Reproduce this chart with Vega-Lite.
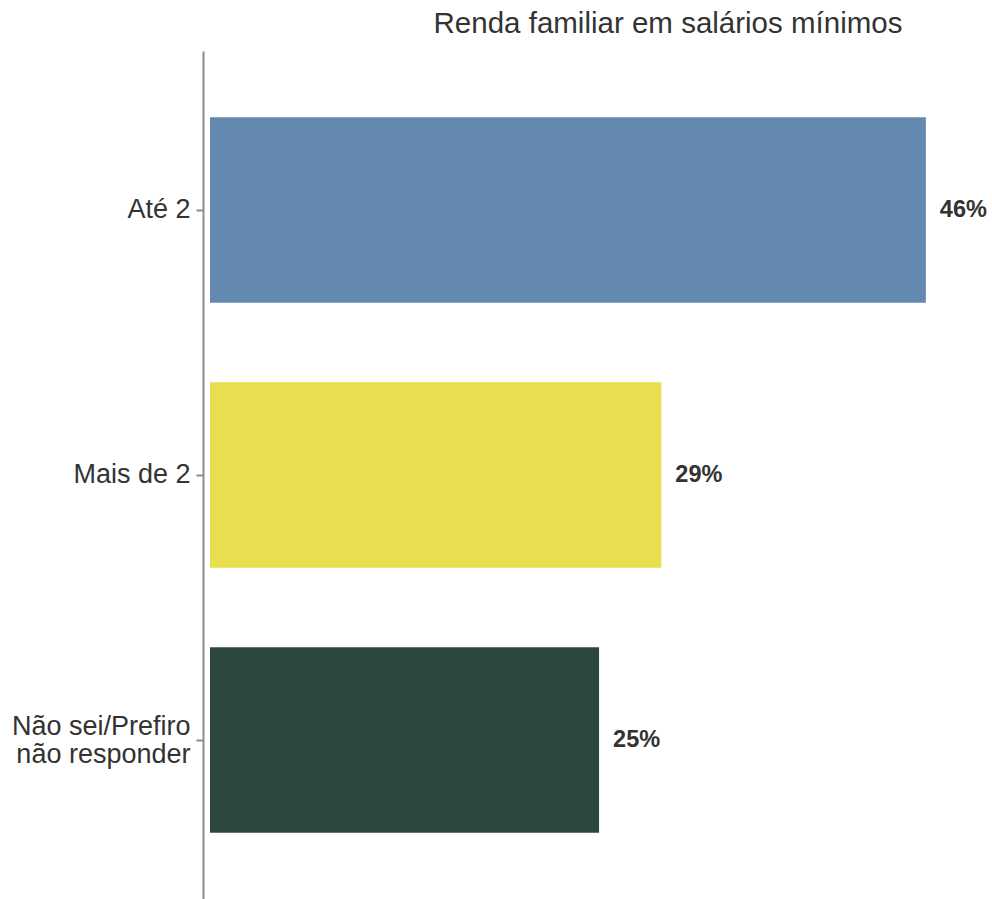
{
  "$schema": "https://vega.github.io/schema/vega-lite/v6.json",
  "autosize": {"type": "none"},
  "padding": {"left": 203, "top": 51, "right": 7, "bottom": 0},
  "width": 782,
  "height": 848,
  "background": "white",
  "config": {"view": {"stroke": null}, "font": "Liberation Sans"},
  "title": {
    "text": "Renda familiar em salários mínimos",
    "fontSize": 29.5,
    "fontWeight": "normal",
    "color": "#333333",
    "font": "Liberation Sans",
    "anchor": "middle",
    "dx": 74,
    "offset": 12
  },
  "data": {
    "values": [
      {"categoria": "Até 2", "pct": 46, "rotulo": "46%"},
      {"categoria": "Mais de 2", "pct": 29, "rotulo": "29%"},
      {"categoria": "Não sei/Prefiro|não responder", "pct": 25, "rotulo": "25%"}
    ]
  },
  "encoding": {
    "y": {
      "field": "categoria",
      "type": "nominal",
      "sort": null,
      "scale": {"paddingInner": 0.3, "paddingOuter": 0.25},
      "axis": {
        "title": null,
        "labelExpr": "split(datum.label, '|')",
        "labelFontSize": 27,
        "labelColor": "#333333",
        "labelFont": "Liberation Sans",
        "labelPadding": 6,
        "labelLineHeight": 28,
        "labelLimit": 400,
        "labelOffset": {"condition": {"test": "indexof(datum.value, '|') >= 0", "value": -13}, "value": 0},
        "tickColor": "#8c8c8c",
        "tickSize": 7,
        "tickWidth": 2,
        "domainColor": "#8c8c8c",
        "domainWidth": 2,
        "grid": false
      }
    },
    "x": {
      "field": "pct",
      "type": "quantitative",
      "scale": {"domain": [-0.45, 49.8], "nice": false, "zero": false},
      "axis": null
    }
  },
  "layer": [
    {
      "mark": {"type": "bar"},
      "encoding": {
        "x": {"datum": 0},
        "x2": {"field": "pct"},
        "color": {
          "field": "categoria",
          "type": "nominal",
          "scale": {
            "domain": ["Até 2", "Mais de 2", "Não sei/Prefiro|não responder"],
            "range": ["#6489b0", "#e8de50", "#2c483e"]
          },
          "legend": null
        }
      }
    },
    {
      "mark": {
        "type": "text",
        "align": "left",
        "baseline": "middle",
        "dx": 14,
        "fontSize": 23.5,
        "fontWeight": "bold",
        "color": "#333333",
        "font": "Liberation Sans"
      },
      "encoding": {"text": {"field": "rotulo"}}
    }
  ]
}
